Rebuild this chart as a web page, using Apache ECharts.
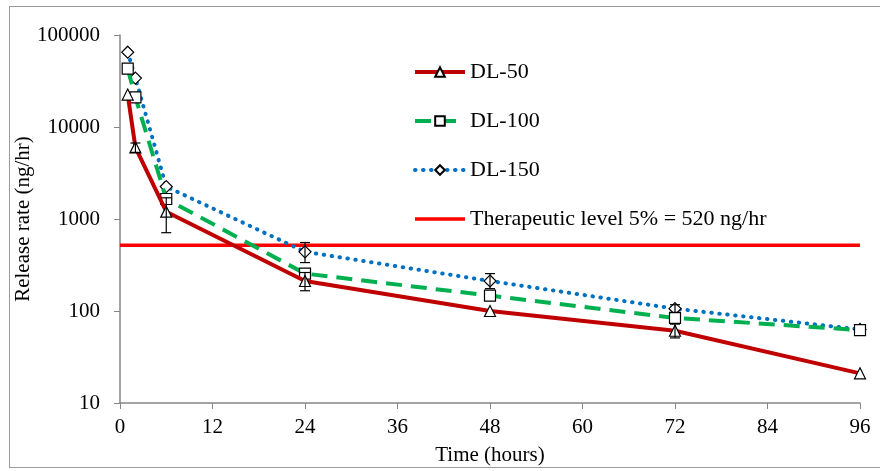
<!DOCTYPE html>
<html>
<head>
<meta charset="utf-8">
<script src="https://cdn.jsdelivr.net/npm/echarts@6/dist/echarts.min.js"></script>
<style>
html,body{margin:0;padding:0;background:#fff;}
#c{position:absolute;left:0;top:0;width:880px;height:471px;}
#frame{position:absolute;left:9px;top:6px;width:875px;height:462px;border:1.5px solid #9a9a9a;pointer-events:none;z-index:10;box-sizing:border-box;}
</style>
</head>
<body>
<div id="c"></div>
<div id="frame"></div>
<script>
const times = [1, 2, 6, 24, 48, 72, 96];
const dl50 = [22500, 6000, 1200, 212, 100, 61, 21];
const dl100 = [43000, 21000, 1650, 255, 147, 84, 62];
const dl150 = [65000, 34000, 2250, 440, 212, 106, 63];
const therapeuticLevel = 520;
const therapeuticTimes = [0, 96];
// error bars [time, low, high]
const err50 = [[2, 5300, 6700], [6, 710, 1700], [24, 166, 262], [72, 51, 72]];
const err150 = [[24, 336, 555], [48, 175, 255], [72, 96, 117]];
const xTicks = [0, 12, 24, 36, 48, 60, 72, 84, 96];
const yTicks = [10, 100, 1000, 10000, 100000];

const font = '"Liberation Serif", "Times New Roman", serif';
const chart = echarts.init(document.getElementById('c'));

function errItem(params, api) {
  const x = api.value(0);
  const pLo = api.coord([x, api.value(1)]);
  const pHi = api.coord([x, api.value(2)]);
  const w = 5;
  const st = { stroke: '#000', lineWidth: 1.2 };
  return {
    type: 'group',
    children: [
      { type: 'line', shape: { x1: pLo[0], y1: pLo[1], x2: pHi[0], y2: pHi[1] }, style: st },
      { type: 'line', shape: { x1: pLo[0] - w, y1: pLo[1], x2: pLo[0] + w, y2: pLo[1] }, style: st },
      { type: 'line', shape: { x1: pHi[0] - w, y1: pHi[1], x2: pHi[0] + w, y2: pHi[1] }, style: st }
    ]
  };
}

const mk = { color: '#fff', borderColor: '#000', borderWidth: 1.2 };

chart.setOption({
  animation: false,
  backgroundColor: '#fff',
  grid: { left: 120, right: 20, top: 35, bottom: 68 },
  legend: {
    orient: 'vertical',
    left: 408,
    top: 56,
    itemGap: 27,
    itemWidth: 50,
    itemHeight: 12,
    lineStyle: { width: 'inherit' },
    textStyle: { fontFamily: font, fontSize: 22, color: '#000' },
    data: ['DL-50', 'DL-100', 'DL-150',
      { name: 'Therapeutic level 5% = 520 ng/hr', itemStyle: { opacity: 0 } }]
  },
  xAxis: {
    type: 'value',
    min: 0, max: 96, interval: 12,
    name: 'Time (hours)',
    nameLocation: 'middle',
    nameGap: 42,
    nameMoveOverlap: false,
    nameTextStyle: { fontFamily: font, fontSize: 21, color: '#000' },
    axisLine: { lineStyle: { color: '#868686', width: 1.5 } },
    axisTick: { show: true, length: 6, lineStyle: { color: '#868686' } },
    axisLabel: { fontFamily: font, fontSize: 21, color: '#000', margin: 14,
      formatter: v => xTicks.includes(v) ? String(v) : '' },
    splitLine: { show: false }
  },
  yAxis: {
    type: 'log',
    logBase: 10,
    min: 10, max: 100000,
    name: 'Release rate (ng/hr)',
    nameLocation: 'middle',
    nameGap: 86,
    nameMoveOverlap: false,
    nameTextStyle: { fontFamily: font, fontSize: 21, color: '#000' },
    axisLine: { show: true, lineStyle: { color: '#868686', width: 1.5 } },
    axisTick: { show: true, length: 6, lineStyle: { color: '#868686' } },
    axisLabel: { fontFamily: font, fontSize: 21, color: '#000', margin: 20,
      formatter: v => yTicks.includes(Math.round(v)) ? String(Math.round(v)) : '' },
    splitLine: { show: false },
    minorTick: { show: false }
  },
  series: [
    {
      name: 'Therapeutic level 5% = 520 ng/hr',
      type: 'line',
      data: therapeuticTimes.map(t => [t, therapeuticLevel]),
      symbol: 'none',
      lineStyle: { color: '#FF0000', width: 3.5 },
      itemStyle: { color: '#FF0000' },
      z: 1
    },
    {
      name: 'DL-50',
      type: 'line',
      data: times.map((t, i) => [t, dl50[i]]),
      symbol: 'triangle',
      symbolSize: 11,
      lineStyle: { color: '#C00000', width: 4 },
      itemStyle: mk,
      z: 4
    },
    {
      name: 'DL-100',
      type: 'line',
      data: times.map((t, i) => [t, dl100[i]]),
      symbol: 'rect',
      symbolSize: 11,
      lineStyle: { color: '#00B050', width: 4, type: [16, 9] },
      itemStyle: mk,
      z: 3
    },
    {
      name: 'DL-150',
      type: 'line',
      data: times.map((t, i) => [t, dl150[i]]),
      symbol: 'diamond',
      symbolSize: 12,
      lineStyle: { color: '#0070C0', width: 4, type: [0.5, 7.5], cap: 'round' },
      itemStyle: mk,
      z: 2
    },
    {
      type: 'custom',
      renderItem: errItem,
      data: err50,
      z: 5
    },
    {
      type: 'custom',
      renderItem: errItem,
      data: err150,
      z: 5
    }
  ]
});
</script>
</body>
</html>
